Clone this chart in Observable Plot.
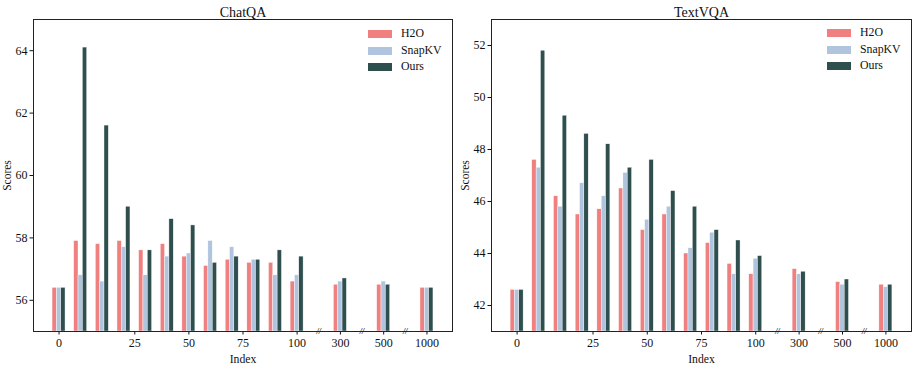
<!DOCTYPE html>
<html>
<head>
<meta charset="utf-8">
<script src="https://cdn.jsdelivr.net/npm/d3@7"></script>
<script src="https://cdn.jsdelivr.net/npm/@observablehq/plot@0.6"></script>
<style>
  html, body { margin: 0; padding: 0; background: #fff; }
  #wrap { position: relative; width: 914px; height: 365px; font-family: "Liberation Serif", "DejaVu Serif", serif; }
  .panel { position: absolute; top: 0; }
  .legend { position: absolute; font-size: 11.8px; color: #111; }
  .legend .row { position: relative; height: 16.7px; }
  .legend .sw { position: absolute; left: 0; top: 4px; width: 24px; height: 8px; }
  .legend .lb { position: absolute; left: 33px; top: -1px; line-height: 16px; white-space: nowrap; }
</style>
</head>
<body>
<div id="wrap"></div>
<script>
// ---- data ----
const methods = ["H2O", "SnapKV", "Ours"];
const colors = ["#F08080", "#B0C4DE", "#2F4F4F"];
const groupSlots = [0, 1, 2, 3, 4, 5, 6, 7, 8, 9, 10, 11, 13, 15, 17];
const tickSlots = [0, 3.5, 6, 8.5, 11, 13, 15, 17];
const tickLabels = ["0", "25", "50", "75", "100", "300", "500", "1000"];
const breakSlots = [12, 14, 16];

const chatqaH2O    = [56.4, 57.9, 57.8, 57.9, 57.6, 57.8, 57.4, 57.1, 57.3, 57.2, 57.2, 56.6, 56.5, 56.5, 56.4];
const chatqaSnapKV = [56.4, 56.8, 56.6, 57.7, 56.8, 57.4, 57.5, 57.9, 57.7, 57.3, 56.8, 56.8, 56.6, 56.6, 56.4];
const chatqaOurs   = [56.4, 64.1, 61.6, 59.0, 57.6, 58.6, 58.4, 57.2, 57.4, 57.3, 57.6, 57.4, 56.7, 56.5, 56.4];

const textvqaH2O    = [42.6, 47.6, 46.2, 45.5, 45.7, 46.5, 44.9, 45.5, 44.0, 44.4, 43.6, 43.2, 43.4, 42.9, 42.8];
const textvqaSnapKV = [42.6, 47.3, 45.8, 46.7, 46.2, 47.1, 45.3, 45.8, 44.2, 44.8, 43.2, 43.8, 43.2, 42.8, 42.7];
const textvqaOurs   = [42.6, 51.8, 49.3, 48.6, 48.2, 47.3, 47.6, 46.4, 45.8, 44.9, 44.5, 43.9, 43.3, 43.0, 42.8];

const chatqaTicks = [56, 58, 60, 62, 64];
const textvqaTicks = [42, 44, 46, 48, 50, 52];

// ---- chart builder ----
function makeChart({title, series, yDomain, yTicks, width, marginLeft, marginRight}) {
  const barW = 0.2;
  const rows = [];
  series.forEach((vals, mi) => {
    vals.forEach((v, gi) => {
      const c = groupSlots[gi] + (mi - 1) * barW;
      rows.push({method: methods[mi], x1: c - barW / 2, x2: c + barW / 2, value: v});
    });
  });
  const xDomain = [-0.3 - 0.88, 17.3 + 0.88];
  return Plot.plot({
    width, height: 365,
    marginLeft, marginRight, marginTop: 19, marginBottom: 34,
    style: {fontFamily: "Liberation Serif", fontSize: "12px", color: "#111", background: "white"},
    x: {domain: xDomain, axis: null},
    y: {domain: yDomain, axis: null},
    color: {domain: methods, range: colors},
    marks: [
      Plot.rectY(rows, {x1: "x1", x2: "x2", y1: yDomain[0], y2: "value", fill: "method", stroke: "white", strokeWidth: 0.4, clip: true}),
      Plot.axisY({ticks: yTicks, tickSize: 3.5, tickPadding: 2.5, fontSize: 12, label: null, tickFormat: (d) => String(d)}),
      Plot.axisY({ticks: [], label: "Scores", labelAnchor: "center", labelArrow: false, labelOffset: 31, fontSize: 11.5}),
      Plot.axisX({ticks: tickSlots, tickFormat: (d) => tickLabels[tickSlots.indexOf(d)], tickSize: 3.5, tickPadding: 3, fontSize: 12, label: null}),
      Plot.axisX({ticks: [], label: "Index", labelAnchor: "center", labelArrow: false, labelOffset: 31, fontSize: 11.7}),
      Plot.text(breakSlots, {x: (d) => d, y: yDomain[0], text: () => "//", fontSize: 8, fontWeight: "bold", fontStyle: "italic", fill: "#111"}),
      Plot.frame({stroke: "#222", strokeWidth: 1}),
      Plot.text([title], {frameAnchor: "top", dy: -12, fontSize: 14, fill: "#111"})
    ]
  });
}

const wrap = document.getElementById("wrap");

function addPanel(left, chart) {
  const d = document.createElement("div");
  d.className = "panel";
  d.style.left = left + "px";
  d.appendChild(chart);
  wrap.appendChild(d);
}

function addLegend(left, top) {
  const lg = document.createElement("div");
  lg.className = "legend";
  lg.style.left = left + "px";
  lg.style.top = top + "px";
  methods.forEach((m, i) => {
    const r = document.createElement("div");
    r.className = "row";
    const sw = document.createElement("div");
    sw.className = "sw";
    sw.style.background = colors[i];
    const lb = document.createElement("div");
    lb.className = "lb";
    lb.textContent = m;
    r.appendChild(sw); r.appendChild(lb);
    lg.appendChild(r);
  });
  wrap.appendChild(lg);
}

addPanel(0, makeChart({title: "ChatQA", series: [chatqaH2O, chatqaSnapKV, chatqaOurs], yDomain: [55, 65], yTicks: chatqaTicks, width: 457, marginLeft: 33, marginRight: 5}));
addPanel(457, makeChart({title: "TextVQA", series: [textvqaH2O, textvqaSnapKV, textvqaOurs], yDomain: [41, 53], yTicks: textvqaTicks, width: 457, marginLeft: 34, marginRight: 3}));
addLegend(368, 26);
addLegend(827, 25);
</script>
</body>
</html>
